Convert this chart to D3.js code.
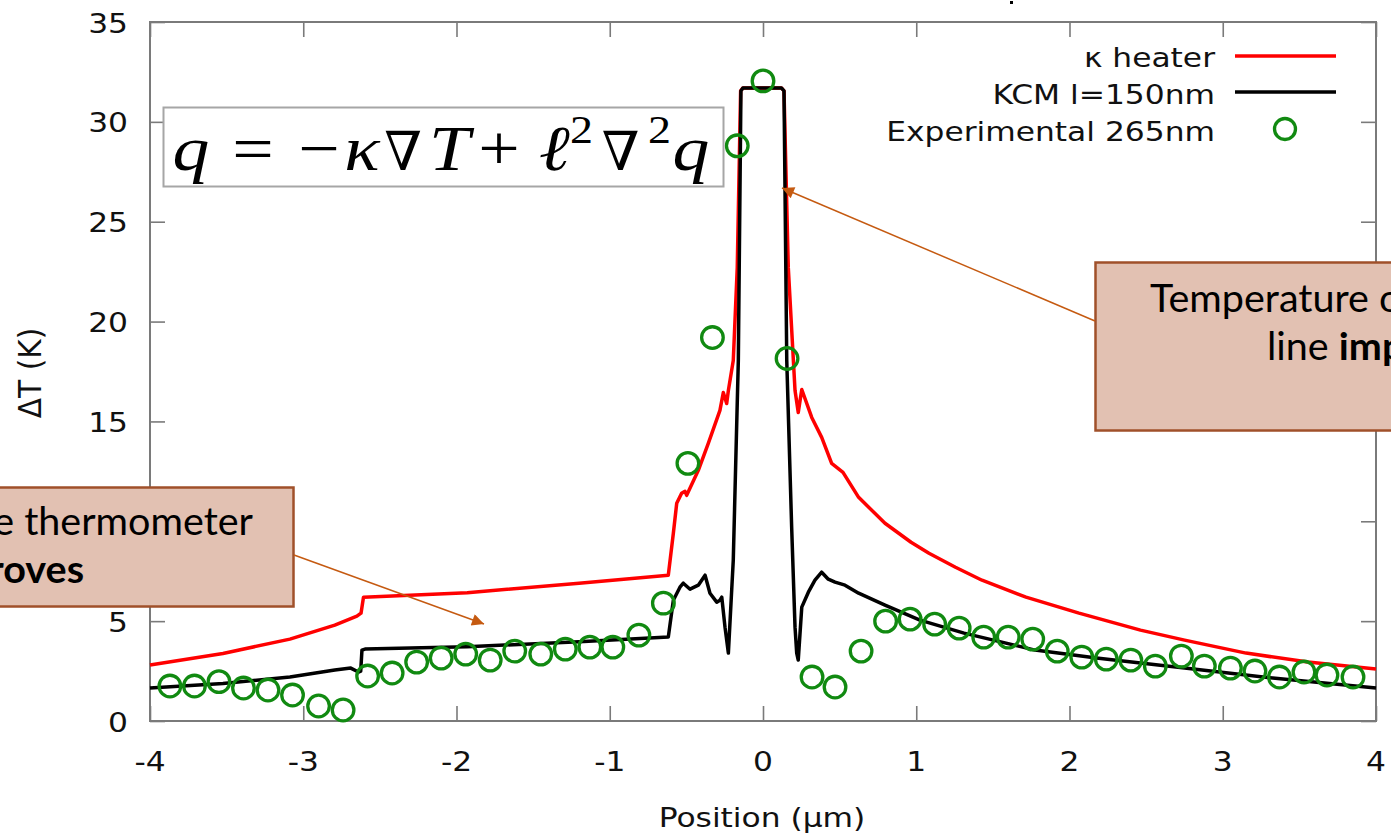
<!DOCTYPE html>
<html><head><meta charset="utf-8">
<script src="https://cdn.jsdelivr.net/npm/d3@7"></script>
<style>body{margin:0;background:#fff;} svg{display:block;}</style>
</head><body><svg id="c" width="1391" height="836"></svg>
<script>
// ---------- data ----------
const xTicks = [-4, -3, -2, -1, 0, 1, 2, 3, 4];
const yTicks = [0, 5, 10, 15, 20, 25, 30, 35];
const seriesNames = ["κ heater", "KCM l=150nm", "Experimental 265nm"];

const heater = [[-4.0,2.8],[-3.524,3.38],[-3.087,4.1],[-2.794,4.8],[-2.65,5.25],[-2.623,5.4],[-2.607,6.2],[-1.93,6.42],[-1.2,6.9],[-0.618,7.3],[-0.585,9.4],[-0.563,10.9],[-0.531,11.4],[-0.509,11.5],[-0.498,11.3],[-0.422,12.55],[-0.357,13.9],[-0.281,15.55],[-0.259,16.45],[-0.237,15.9],[-0.226,16.55],[-0.194,18.05],[-0.168,22.7],[-0.146,31.55],[-0.131,31.7],[0,31.7],[0.12,31.7],[0.137,31.55],[0.165,22.7],[0.209,16.55],[0.230,15.45],[0.253,16.6],[0.318,15.2],[0.383,14.2],[0.448,12.9],[0.522,12.45],[0.624,11.2],[0.796,9.9],[0.966,8.95],[1.083,8.4],[1.256,7.7],[1.429,7.05],[1.716,6.2],[2.062,5.4],[2.463,4.55],[2.751,4.05],[3.152,3.4],[3.556,2.95],[4.0,2.6]];

const kcm = [[-4.0,1.65],[-3.524,1.88],[-3.087,2.2],[-2.794,2.55],[-2.69,2.65],[-2.64,2.45],[-2.625,2.5],[-2.617,3.55],[-2.597,3.6],[-1.93,3.72],[-1.2,3.97],[-0.618,4.2],[-0.585,6.05],[-0.542,6.7],[-0.520,6.9],[-0.476,6.6],[-0.422,6.8],[-0.378,7.3],[-0.346,6.4],[-0.302,5.95],[-0.281,6.05],[-0.269,6.2],[-0.248,4.7],[-0.226,3.4],[-0.194,8.05],[-0.161,18.05],[-0.144,31.55],[-0.131,31.7],[0,31.7],[0.12,31.7],[0.137,31.55],[0.155,18.05],[0.187,9.7],[0.209,4.7],[0.220,3.4],[0.230,3.05],[0.253,5.7],[0.296,6.45],[0.339,7.05],[0.383,7.45],[0.426,7.1],[0.470,6.95],[0.535,6.8],[0.624,6.4],[0.796,5.8],[1.024,5.05],[1.312,4.4],[1.775,3.55],[2.176,3.15],[2.751,2.65],[3.326,2.15],[4.0,1.65]];

const experimental = [[-3.87,1.75],[-3.71,1.75],[-3.55,1.97],[-3.39,1.65],[-3.23,1.55],[-3.07,1.3],[-2.90,0.75],[-2.74,0.55],[-2.58,2.25],[-2.42,2.4],[-2.26,2.95],[-2.10,3.15],[-1.94,3.35],[-1.78,3.05],[-1.62,3.5],[-1.45,3.35],[-1.29,3.6],[-1.13,3.7],[-0.98,3.7],[-0.81,4.3],[-0.65,5.9],[-0.49,12.9],[-0.33,19.2],[-0.168,28.8],[0.0,32.05],[0.157,18.15],[0.32,2.2],[0.47,1.7],[0.64,3.5],[0.80,5.0],[0.96,5.1],[1.12,4.85],[1.28,4.65],[1.44,4.2],[1.60,4.2],[1.76,4.1],[1.92,3.5],[2.08,3.2],[2.24,3.1],[2.40,3.05],[2.56,2.75],[2.73,3.25],[2.88,2.75],[3.05,2.65],[3.21,2.5],[3.37,2.2],[3.53,2.45],[3.68,2.3],[3.85,2.2]];

// ---------- layout ----------
const svg = d3.select('#c');
const L = 150, R = 1376, T = 22, B = 721;
const x = d3.scaleLinear().domain([-4, 4]).range([L, R]);
const y = d3.scaleLinear().domain([0, 35]).range([B, T]);
const frameCol = '#7a7a7a';
const sx = 1.16;   // horizontal stretch of gnuplot text
const gnuFont = '"DejaVu Sans", sans-serif';

// frame & ticks
function styleAxis(g){
  g.select('.domain').remove();
  g.selectAll('.tick line').attr('stroke', frameCol).attr('stroke-width', 1.6);
  g.selectAll('.tick text').remove();
}
svg.append('g').attr('transform', `translate(0,${B})`)
  .call(d3.axisBottom(x).tickValues(xTicks).tickSize(-15).tickFormat('')).call(styleAxis);
svg.append('g').attr('transform', `translate(0,${T})`)
  .call(d3.axisTop(x).tickValues(xTicks).tickSize(-15).tickFormat('')).call(styleAxis);
svg.append('g').attr('transform', `translate(${L},0)`)
  .call(d3.axisLeft(y).tickValues(yTicks).tickSize(-15).tickFormat('')).call(styleAxis);
svg.append('g').attr('transform', `translate(${R},0)`)
  .call(d3.axisRight(y).tickValues(yTicks).tickSize(-15).tickFormat('')).call(styleAxis);
svg.append('rect').attr('x', L).attr('y', T).attr('width', R - L).attr('height', B - T)
  .attr('fill', 'none').attr('stroke', frameCol).attr('stroke-width', 2);

// tick labels
svg.append('g').selectAll('text').data(xTicks).join('text')
  .attr('transform', d => `translate(${x(d)},771) scale(${sx},1)`)
  .attr('text-anchor', 'middle').attr('font-family', gnuFont).attr('font-size', 27)
  .attr('fill', '#111').text(d => d);
svg.append('g').selectAll('text').data(yTicks).join('text')
  .attr('transform', d => `translate(128,${y(d) + 10.5}) scale(${sx},1)`)
  .attr('text-anchor', 'end').attr('font-family', gnuFont).attr('font-size', 27)
  .attr('fill', '#111').text(d => d);
svg.append('text').attr('transform', `translate(762,826.5) scale(${sx},1)`)
  .attr('text-anchor', 'middle').attr('font-family', gnuFont).attr('font-size', 27)
  .attr('fill', '#111').text('Position (µm)');
svg.append('text').attr('transform', `translate(41,373) rotate(-90) scale(1.1,${sx})`)
  .attr('text-anchor', 'middle').attr('font-family', gnuFont).attr('font-size', 27)
  .attr('fill', '#111').text('ΔT (K)');

// lines
const line = d3.line().x(d => x(d[0])).y(d => y(d[1]));
svg.append('path').datum(heater).attr('d', line).attr('fill', 'none')
  .attr('stroke', '#ff0000').attr('stroke-width', 3.5).attr('stroke-linejoin', 'round');
svg.append('path').datum(kcm).attr('d', line).attr('fill', 'none')
  .attr('stroke', '#000').attr('stroke-width', 3.5).attr('stroke-linejoin', 'round');
svg.append('g').selectAll('circle').data(experimental).join('circle')
  .attr('cx', d => x(d[0])).attr('cy', d => y(d[1])).attr('r', 10.8)
  .attr('fill', 'none').attr('stroke', '#118a11').attr('stroke-width', 3.3);

// legend
const lg = svg.append('g');
const legY = [56, 92, 129];
const legBase = [66.5, 103.5, 140.5];
seriesNames.forEach((n, i) => {
  lg.append('text').attr('transform', `translate(1215,${legBase[i]}) scale(${sx},1)`)
    .attr('text-anchor', 'end').attr('font-family', gnuFont).attr('font-size', 27)
    .attr('fill', '#111').text(n);
});
lg.append('line').attr('x1', 1235).attr('x2', 1336).attr('y1', legY[0]).attr('y2', legY[0])
  .attr('stroke', '#ff0000').attr('stroke-width', 3.5);
lg.append('line').attr('x1', 1235).attr('x2', 1336).attr('y1', legY[1]).attr('y2', legY[1])
  .attr('stroke', '#000').attr('stroke-width', 3.5);
lg.append('circle').attr('cx', 1285).attr('cy', legY[2]).attr('r', 10.5)
  .attr('fill', 'none').attr('stroke', '#118a11').attr('stroke-width', 3.3);

// stray mark at top
svg.append('rect').attr('x', 1010).attr('y', 1).attr('width', 3).attr('height', 3).attr('fill', '#000');

// formula box
svg.append('rect').attr('x', 163.5).attr('y', 107.5).attr('width', 560).attr('height', 79)
  .attr('fill', '#fff').attr('stroke', '#a6a6a6').attr('stroke-width', 2);
const glyphs = [
  {t:'q', cx:191, it:true}, {t:'=', cx:253}, {t:'−', cx:319}, {t:'κ', cx:362, it:true},
  {t:'∇', cx:403, nb:true}, {t:'T', cx:449.5, it:true}, {t:'+', cx:499}, {t:'ℓ', cx:554, it:true},
  {t:'2', cx:581.5, sup:true}, {t:'∇', cx:620.5, nb:true}, {t:'2', cx:659.5, sup:true}, {t:'q', cx:691, it:true}
];
svg.append('g').selectAll('text').data(glyphs).join('text')
  .attr('transform', d => `translate(${d.cx},${d.sup ? 143 : 170}) scale(${d.nb ? 1 : 1.15},1)`)
  .attr('text-anchor', 'middle')
  .attr('font-family', d => d.nb ? '"DejaVu Serif", serif' : '"Liberation Serif", "DejaVu Serif", serif')
  .attr('font-style', d => (d.it || d.nb) ? 'italic' : 'normal')
  .attr('font-size', d => d.sup ? 40 : (d.nb ? 54 : 64)).attr('fill', '#000').text(d => d.t);

// annotation boxes
const boxFill = '#e2c1b2', boxStroke = '#a0502a', annFont = 'Lato, "Noto Sans", sans-serif';
const annSx = 1.04;
svg.append('rect').attr('x', 1095.5).attr('y', 262.5).attr('width', 320).attr('height', 168)
  .attr('fill', boxFill).attr('stroke', boxStroke).attr('stroke-width', 2.5);
svg.append('rect').attr('x', -20).attr('y', 487.5).attr('width', 313.5).attr('height', 119)
  .attr('fill', boxFill).attr('stroke', boxStroke).attr('stroke-width', 2.5);
svg.append('text').attr('transform', `translate(1150,311.5) scale(${annSx},1)`)
  .attr('font-family', annFont).attr('font-size', 38)
  .attr('fill', '#000').text('Temperature of the heater');
const t2 = svg.append('text').attr('transform', `translate(1267,360) scale(${annSx},1)`)
  .attr('font-family', annFont).attr('font-size', 38).attr('fill', '#000');
t2.append('tspan').text('line ');
t2.append('tspan').attr('font-weight', 'bold').text('improves');
svg.append('text').attr('transform', `translate(253,535) scale(${annSx},1)`)
  .attr('text-anchor', 'end').attr('font-family', annFont)
  .attr('font-size', 38).attr('fill', '#000').text('Temperature of the thermometer');
svg.append('text').attr('transform', `translate(84,583) scale(${annSx},1)`)
  .attr('text-anchor', 'end').attr('font-family', annFont)
  .attr('font-size', 38).attr('font-weight', 'bold').attr('fill', '#000').text('improves');

// arrows
const arrowCol = '#c55a11';
svg.append('defs').append('marker').attr('id', 'ah').attr('viewBox', '0 0 10 10')
  .attr('refX', 10).attr('refY', 5).attr('markerWidth', 16).attr('markerHeight', 12)
  .attr('markerUnits', 'userSpaceOnUse').attr('orient', 'auto')
  .append('path').attr('d', 'M0,0 L10,5 L0,10 Z').attr('fill', arrowCol);
svg.append('line').attr('x1', 1095).attr('y1', 321).attr('x2', 782).attr('y2', 188)
  .attr('stroke', arrowCol).attr('stroke-width', 1.5).attr('marker-end', 'url(#ah)');
svg.append('line').attr('x1', 294).attr('y1', 555).attr('x2', 484).attr('y2', 624)
  .attr('stroke', arrowCol).attr('stroke-width', 1.5).attr('marker-end', 'url(#ah)');
</script></body></html>
